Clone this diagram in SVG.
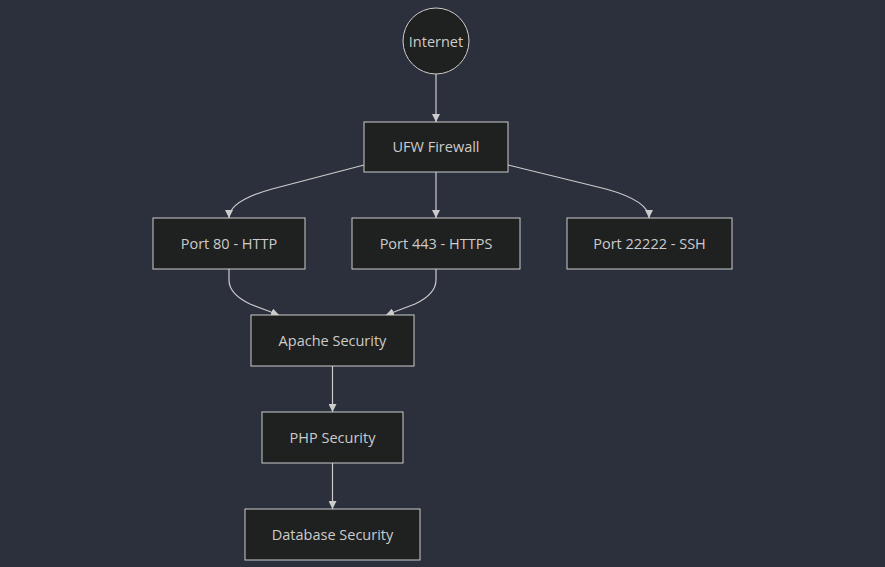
<svg xmlns="http://www.w3.org/2000/svg" width="885" height="567" viewBox="0 0 885 567">
<style>
.bg{fill:#2b303c}
.node rect,.node circle{fill:#1f2020;stroke:#cccccc;stroke-width:1}
.node text{fill:#cccccc;font-family:"Open Sans","Noto Sans","DejaVu Sans",sans-serif;font-size:14.5px;text-anchor:middle;dominant-baseline:central}
.edge{fill:none;stroke:#cccccc;stroke-width:1.2;marker-end:url(#arr)}
</style>
<defs>
<marker id="arr" viewBox="0 0 10 10" refX="10" refY="5" markerWidth="8" markerHeight="8" markerUnits="userSpaceOnUse" orient="auto">
<path d="M0,0 L10,5 L0,10 z" fill="#cccccc"/>
</marker>
</defs>
<rect class="bg" x="0" y="0" width="885" height="567"/>
<g id="connectors">
<path class="edge" d="M436,74 L436,122"/>
<path class="edge" d="M364,165 L272,189 Q229,201 229,218"/>
<path class="edge" d="M436,172 L436,218"/>
<path class="edge" d="M508,165 L606,189 Q649,201 649,218"/>
<path class="edge" d="M229,269 L229,280 Q229,294 250,304 L279,315"/>
<path class="edge" d="M436,269 L436,280 Q436,294 415,304 L386,315"/>
<path class="edge" d="M332.5,366 L332.5,412"/>
<path class="edge" d="M332.5,463 L332.5,509"/>
</g>
<g id="internet" class="node"><circle cx="436" cy="41" r="33"/><text x="436" y="41">Internet</text></g>
<g id="ufw" class="node"><rect x="364" y="122" width="144" height="50"/><text x="436" y="146.5">UFW Firewall</text></g>
<g id="port80" class="node"><rect x="153" y="218" width="152" height="51"/><text x="229" y="243">Port 80 - HTTP</text></g>
<g id="port443" class="node"><rect x="352" y="218" width="168" height="51"/><text x="436" y="243">Port 443 - HTTPS</text></g>
<g id="port22222" class="node"><rect x="567" y="218" width="165" height="51"/><text x="649.5" y="243">Port 22222 - SSH</text></g>
<g id="apache" class="node"><rect x="251" y="315" width="163" height="51"/><text x="332.5" y="340">Apache Security</text></g>
<g id="php" class="node"><rect x="262" y="412" width="141" height="51"/><text x="332.5" y="437">PHP Security</text></g>
<g id="database" class="node"><rect x="245" y="509" width="175" height="51"/><text x="332.5" y="534">Database Security</text></g>
</svg>
